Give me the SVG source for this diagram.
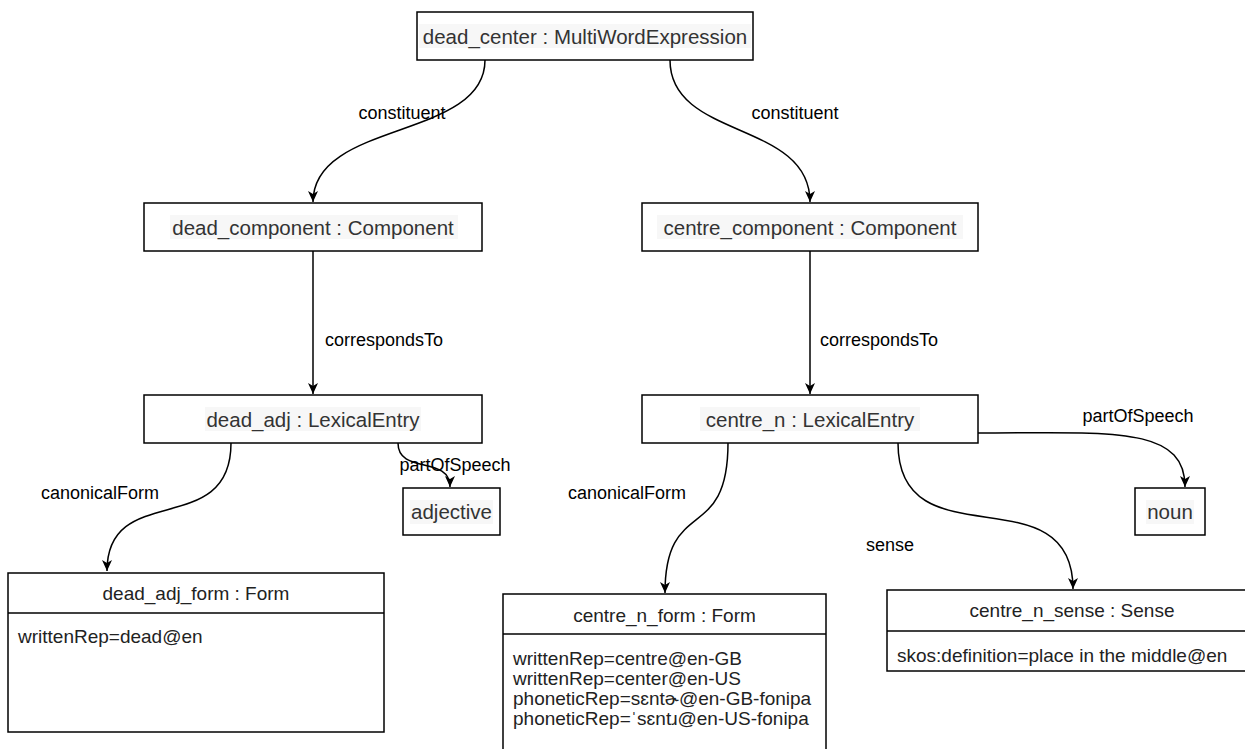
<svg xmlns="http://www.w3.org/2000/svg" width="1245" height="749" viewBox="0 0 1245 749">
<defs>
<marker id="arr" viewBox="0 0 12 12" refX="11" refY="6" markerWidth="12" markerHeight="12" markerUnits="userSpaceOnUse" orient="auto">
<path d="M0,1 L11,6 L0,11 L3,6 Z" fill="#000"/>
</marker>
<style>
.box{fill:#fff;stroke:#000;stroke-width:1.5}
.t{font-family:"Liberation Sans",Arial,sans-serif;font-size:20.5px;fill:#333;text-anchor:middle;dominant-baseline:central}
.hl{fill:#f7f7f7}
.f{font-family:"Liberation Sans",Arial,sans-serif;font-size:19px;fill:#222}
.fc{text-anchor:middle;dominant-baseline:central}
.lbl{font-family:"Liberation Sans",Arial,sans-serif;font-size:18px;fill:#000;dominant-baseline:central}
.e{fill:none;stroke:#000;stroke-width:1.5;marker-end:url(#arr)}
</style>
</defs>
<rect width="1245" height="749" fill="#fff"/>
<g id="connectors">
<path class="e" d="M485,60 C485,140 313,120 313,202"/>
<path class="e" d="M670,60 C670,140 810,120 810,202"/>
<path class="e" d="M313,251 L313,394"/>
<path class="e" d="M810,251 L810,394"/>
<path class="e" d="M231,443 C231,540 107,480 107,571"/>
<path class="e" d="M398,443 C398,475 450,455 450,487"/>
<path class="e" d="M728,443 C728,545 665,495 665,593"/>
<path class="e" d="M898,443 C898,565 1073,470 1073,589"/>
<path class="e" d="M978,433 C1110,433 1185,425 1185,487"/>
<text class="lbl" x="402" y="113" text-anchor="middle">constituent</text>
<text class="lbl" x="795" y="113" text-anchor="middle">constituent</text>
<text class="lbl" x="325" y="340">correspondsTo</text>
<text class="lbl" x="820" y="340">correspondsTo</text>
<text class="lbl" x="100" y="493" text-anchor="middle">canonicalForm</text>
<text class="lbl" x="455" y="465" text-anchor="middle">partOfSpeech</text>
<text class="lbl" x="627" y="493" text-anchor="middle">canonicalForm</text>
<text class="lbl" x="890" y="545" text-anchor="middle">sense</text>
<text class="lbl" x="1138" y="416" text-anchor="middle">partOfSpeech</text>
</g>
<g id="dead_center">
<rect class="box" x="417" y="12" width="336" height="48"/>
<rect class="hl" x="419" y="24" width="332" height="24"/>
<text class="t" x="585" y="36">dead_center : MultiWordExpression</text>
</g>
<g id="dead_component">
<rect class="box" x="144" y="203" width="338" height="48"/>
<rect class="hl" x="170" y="215" width="288" height="24"/>
<text class="t" x="313" y="227">dead_component : Component</text>
</g>
<g id="centre_component">
<rect class="box" x="642" y="203" width="336" height="48"/>
<rect class="hl" x="657" y="215" width="306" height="24"/>
<text class="t" x="810" y="227">centre_component  : Component</text>
</g>
<g id="dead_adj">
<rect class="box" x="144" y="395" width="338" height="48"/>
<rect class="hl" x="205" y="407" width="216" height="24"/>
<text class="t" x="313" y="419">dead_adj : LexicalEntry</text>
</g>
<g id="centre_n">
<rect class="box" x="642" y="395" width="336" height="48"/>
<rect class="hl" x="700" y="407" width="220" height="24"/>
<text class="t" x="810" y="419">centre_n : LexicalEntry</text>
</g>
<g id="adjective">
<rect class="box" x="403" y="488" width="97" height="47"/>
<rect class="hl" x="410" y="500" width="83" height="24"/>
<text class="t" x="451.5" y="511.5">adjective</text>
</g>
<g id="noun">
<rect class="box" x="1135" y="488" width="70" height="47"/>
<rect class="hl" x="1146" y="500" width="48" height="24"/>
<text class="t" x="1170" y="511.5">noun</text>
</g>
<g id="dead_adj_form">
<rect class="box" x="8" y="573" width="376" height="159"/>
<line x1="8" y1="613" x2="384" y2="613" stroke="#000" stroke-width="1.5"/>
<text class="f fc" x="196" y="593">dead_adj_form : Form</text>
<text class="f" x="18" y="636" dominant-baseline="central">writtenRep=dead@en</text>
</g>
<g id="centre_n_form">
<rect class="box" x="503" y="594" width="323" height="170"/>
<line x1="503" y1="634" x2="826" y2="634" stroke="#000" stroke-width="1.5"/>
<text class="f fc" x="664.5" y="615">centre_n_form : Form</text>
<text class="f" x="513" y="658" dominant-baseline="central">writtenRep=centre@en-GB</text>
<text class="f" x="513" y="678" dominant-baseline="central">writtenRep=center@en-US</text>
<text class="f" x="513" y="698" dominant-baseline="central">phoneticRep=sɛntɚ@en-GB-fonipa</text>
<text class="f" x="513" y="718" dominant-baseline="central">phoneticRep=ˈsɛntɹ@en-US-fonipa</text>
</g>
<g id="centre_n_sense">
<rect class="box" x="887" y="590" width="372" height="81"/>
<line x1="887" y1="631" x2="1259" y2="631" stroke="#000" stroke-width="1.5"/>
<text class="f fc" x="1072" y="610">centre_n_sense : Sense</text>
<text class="f" x="897" y="655" dominant-baseline="central">skos:definition=place in the middle@en</text>
</g>
</svg>
